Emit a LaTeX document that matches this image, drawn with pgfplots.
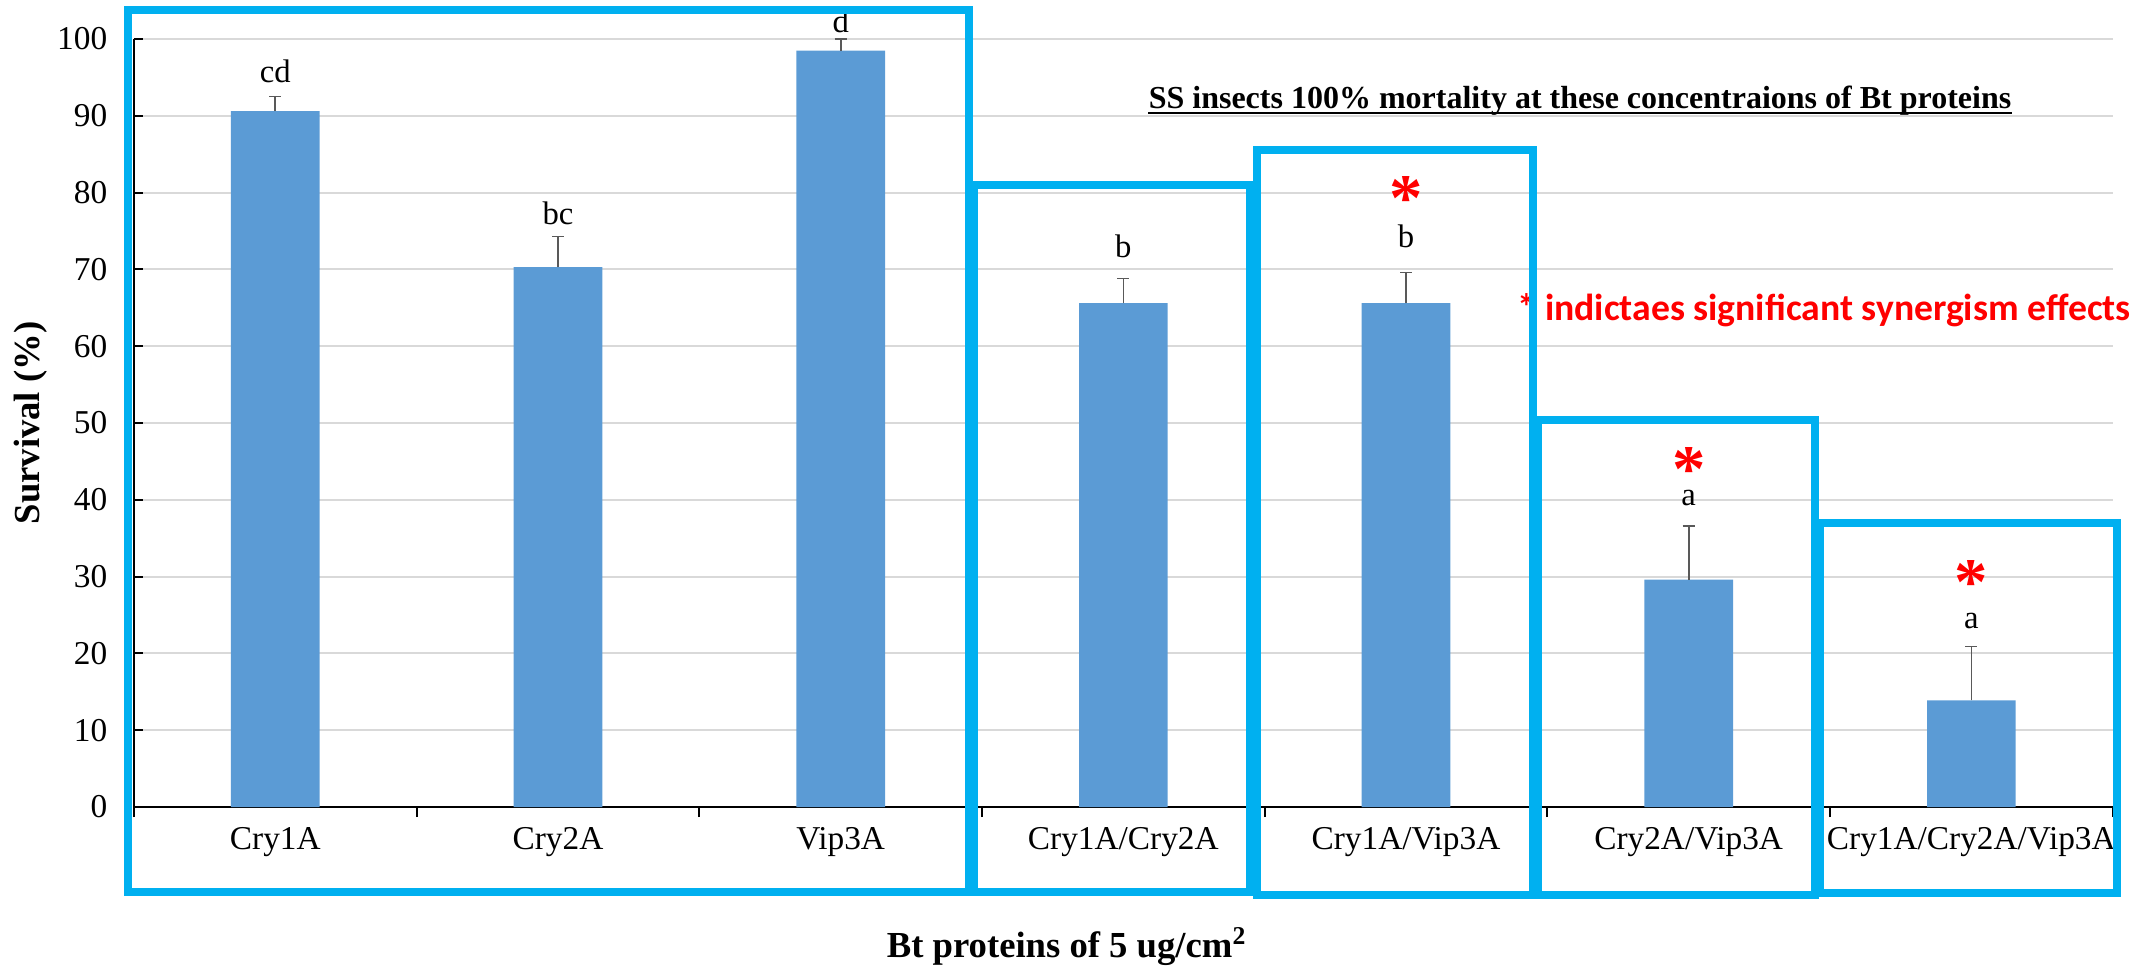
\documentclass[border=0pt]{standalone}
\usepackage{pgfplots}
\pgfplotsset{compat=1.18}
\usepackage{fontspec}
\setmainfont{Liberation Serif}
\newfontfamily\calib{Carlito}
\definecolor{barblue}{HTML}{5B9BD5}
\definecolor{boxblue}{HTML}{00B0F0}
\definecolor{gridgray}{HTML}{D9D9D9}
\definecolor{errgray}{HTML}{595959}
\begin{document}
\begin{tikzpicture}
\path[use as bounding box] (-40.2pt,-48pt) rectangle (603.6pt,242.1pt);
\begin{axis}[
  at={(0,0)}, anchor=south west,
  scale only axis, width=593.6pt, height=230.4pt,
  xmin=-0.5, xmax=6.5, ymin=0, ymax=100,
  axis x line*=bottom, axis y line*=left,
  axis line style={black, line width=0.6pt, -},
  ybar, bar width=26.6pt,
  ytick={0,10,...,100},
  ymajorgrids, major grid style={gridgray, line width=0.6pt},
  xtick={0,...,6},
  xticklabels={Cry1A,Cry2A,Vip3A,Cry1A/Cry2A,Cry1A/Vip3A,Cry2A/Vip3A,Cry1A/Cry2A/Vip3A},
  minor xtick={-0.5,0.5,...,6.5},
  major x tick style={draw=none},
  minor x tick style={black, line width=0.6pt},
  tick align=outside, major tick length=2.7pt, minor tick length=3pt,
  ytick style={black, line width=0.6pt, xshift=2.7pt},
  tick label style={font=\rmfamily\fontsize{10}{11}\selectfont},
  yticklabel style={xshift=-1.8pt},
  /pgf/number format/assume math mode=true,
  xlabel={Bt proteins of 5 ug/cm\textsuperscript{2}},
  xlabel style={font=\bfseries\fontsize{11}{13}\selectfont, at={(axis description cs:0.4715,-0.182)}, anchor=center},
  ylabel={Survival (\%)},
  ylabel style={font=\bfseries\fontsize{11}{13}\selectfont, at={(axis description cs:-0.052,0.5)}, anchor=center},
  clip=false,
]
\addplot[fill=barblue, draw=none,
  error bars/.cd, y dir=plus, y explicit, error mark=-,
  error mark options={errgray, rotate=90, mark size=1.8pt, line width=0.5pt},
  error bar style={errgray, line width=0.5pt}]
  table[x=x, y=y, y error=e] {
x y e
0 90.6 1.9
1 70.3 4.0
2 98.5 1.5
3 65.6 3.2
4 65.6 4.0
5 29.6 7.0
6 13.9 7.0
};
\tikzset{lett/.style={anchor=base, inner sep=0pt, font=\fontsize{9.8}{11}\selectfont}}
\node[lett] at (axis cs:0,94.3) {cd};
\node[lett] at (axis cs:1,75.8) {bc};
\node[lett] at (axis cs:2,100.9) {d};
\node[lett] at (axis cs:3,71.6) {b};
\node[lett] at (axis cs:4,72.9) {b};
\node[lett] at (axis cs:5,39.2) {a};
\node[lett] at (axis cs:6,23.3) {a};
\tikzset{ast/.style={anchor=base, inner sep=0pt, text=red, font=\bfseries\fontsize{20}{20}\selectfont}}
\node[ast] at (axis cs:4,76.4) {*};
\node[ast] at (axis cs:5,41.1) {*};
\node[ast] at (axis cs:6,26.4) {*};
\node[anchor=base, inner sep=0pt, font=\bfseries\fontsize{9.6}{12}\selectfont] (tt) at (rel axis cs:0.7308,0.909) {SS insects 100\% mortality at these concentraions of Bt proteins};
\draw[line width=0.8pt] ([yshift=-1.2pt]tt.base west) -- ([yshift=-1.2pt]tt.base east);
\node[anchor=base west, inner sep=0pt, text=red, font=\calib\bfseries\fontsize{11.3}{13}\selectfont] at (rel axis cs:0.699,0.634) {* indictaes significant synergism effects};
\end{axis}
\begin{scope}[x=0.3pt, y=-0.3pt, xshift=-40.2pt, yshift=242.1pt]
\draw[boxblue, line width=2.4pt] (128,10) rectangle (969,892);
\draw[boxblue, line width=2.4pt] (974,185) rectangle (1250,892);
\draw[boxblue, line width=2.4pt] (1257,150) rectangle (1533,895);
\draw[boxblue, line width=2.4pt] (1538,420) rectangle (1815,895);
\draw[boxblue, line width=2.4pt] (1820,523) rectangle (2117,893);
\end{scope}
\end{tikzpicture}
\end{document}
